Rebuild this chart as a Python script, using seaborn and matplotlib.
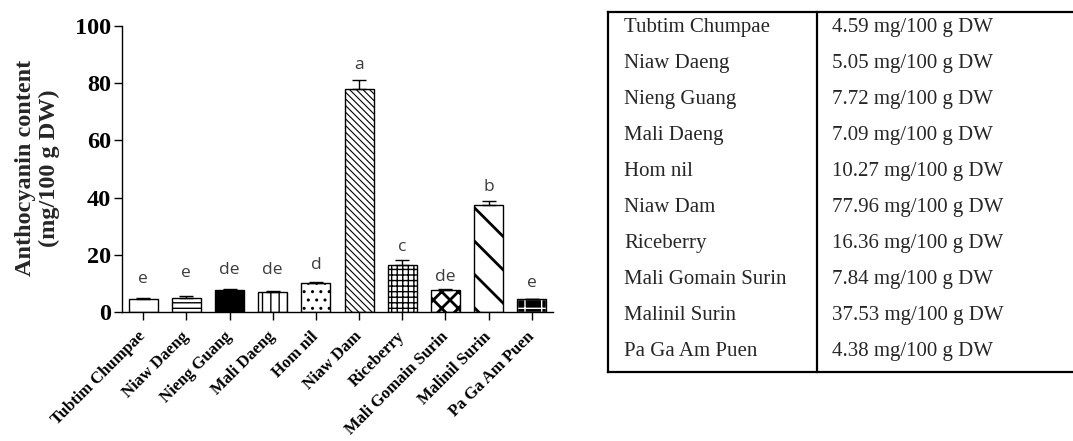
import numpy as np
import pandas as pd
import matplotlib
matplotlib.use("Agg")
import matplotlib.pyplot as plt
import matplotlib.transforms as mtransforms
from matplotlib.patches import Rectangle
import seaborn as sns

# ---- data -------------------------------------------------------------
varieties = ["Tubtim Chumpae", "Niaw Daeng", "Nieng Guang", "Mali Daeng", "Hom nil",
             "Niaw Dam", "Riceberry", "Mali Gomain Surin", "Malinil Surin", "Pa Ga Am Puen"]
anthocyanin = [4.59, 5.05, 7.72, 7.09, 10.27, 77.96, 16.36, 7.84, 37.53, 4.38]
sd = [0.2, 0.7, 0.2, 0.1, 0.2, 3.1, 1.8, 0.3, 1.3, 0.3]
groups = ["e", "e", "de", "de", "d", "a", "c", "de", "b", "e"]
y_ticks = [0, 20, 40, 60, 80, 100]
unit = "mg/100 g DW"

# ---- per-bar fill styles: (face, hatch, hatch line width) -------------
styles = [
    ("white", "", 1.0),
    ("white", "---", 1.0),
    ("black", "", 1.0),
    ("white", "||", 1.0),
    ("white", "..", 1.0),
    ("white", "\\" * 5, 0.8),
    ("white", "+++", 1.0),
    ("white", "xx", 2.0),
    ("white", "\\", 2.0),
    ("black", "+", 1.0),
]
letter_gap = [5.5, 6.4, 5.4, 6.0, 4.7, 3.9, 3.0, 2.7, 3.4, 4.2]

sns.set_theme(style="ticks")
plt.rcParams["font.family"] = ["Liberation Serif", "DejaVu Serif"]
plt.rcParams["hatch.linewidth"] = 1.0

W, H = 1073, 441
fig = plt.figure(figsize=(W / 100, H / 100), dpi=100)
ax = fig.add_axes([122 / W, 1 - 312 / H, (553 - 122) / W, (312 - 26) / H])

df = pd.DataFrame({"variety": varieties, "anthocyanin": anthocyanin})
sns.barplot(data=df, x="variety", y="anthocyanin", order=varieties, errorbar=None,
            width=0.67, color="white", saturation=1, edgecolor="black",
            linewidth=1.0, ax=ax)


def set_hatch_lw(patch, lw):
    if hasattr(patch, "set_hatch_linewidth"):
        patch.set_hatch_linewidth(lw)
    else:
        orig = patch.draw

        def draw(renderer, _orig=orig, _lw=lw):
            with plt.rc_context({"hatch.linewidth": _lw}):
                _orig(renderer)
        patch.draw = draw


bars = list(ax.patches)
for i, (p, (face, hatch, hlw)) in enumerate(zip(bars, styles)):
    p.set_facecolor(face)
    p.set_hatch(hatch)
    set_hatch_lw(p, hlw)
    if face == "black" and hatch:
        # white pattern on a black fill, then a black outline on top
        p.set_edgecolor("white")
        ax.add_patch(Rectangle(p.get_xy(), p.get_width(), p.get_height(),
                               fill=False, edgecolor="black", linewidth=1.0,
                               zorder=p.get_zorder() + 0.1))
    else:
        p.set_edgecolor("black")

xpos = np.arange(len(varieties))
ax.errorbar(xpos, anthocyanin, yerr=[np.zeros(len(sd)), sd], fmt="none",
            ecolor="black", elinewidth=1.0, capsize=5, capthick=1.0, zorder=3)

for i, (v, e, g) in enumerate(zip(anthocyanin, sd, groups)):
    ax.text(i, v + e + letter_gap[i], g, ha="center", va="baseline",
            fontfamily="Open Sans", fontsize=12.5, color="#3c3c3c")

ax.set_xlim(-0.49, len(varieties) - 0.51)
ax.set_ylim(0, 100)
ax.set_yticks(y_ticks)
ax.set_xticks(xpos)
ax.set_xticklabels(varieties, rotation=45, ha="right", va="center",
                   rotation_mode="anchor", fontweight="bold", fontsize=12)
for lab in ax.get_xticklabels():
    lab.set_transform(lab.get_transform() + mtransforms.ScaledTranslation(4 / 100, 0, fig.dpi_scale_trans))
ax.set_yticklabels([str(t) for t in y_ticks], fontweight="bold", fontsize=17.5)
ax.set_xlabel("")
ax.set_ylabel("")
sns.despine(ax=ax)
for s in ("left", "bottom"):
    ax.spines[s].set_linewidth(1.0)
    ax.spines[s].set_color("black")
ax.tick_params(axis="both", direction="out", length=6, width=1.0, color="black", labelcolor="black")
ax.tick_params(axis="y", pad=2)
ax.tick_params(axis="x", pad=10)

fig.text(37.5 / W, 1 - 168 / H, "Anthocyanin content\n(mg/100 g DW)", rotation=90,
         ha="center", va="center", multialignment="center", linespacing=1.2,
         fontweight="bold", fontsize=17.5)

# ---- value table on the right ----------------------------------------
tax = fig.add_axes([0, 0, 1, 1])
tax.set_xlim(0, W)
tax.set_ylim(H, 0)
tax.axis("off")
tax.patch.set_alpha(0)

left, mid, right, top, row_h = 608, 817, W + 5, 12, 36
bottom = top + row_h * len(varieties)
lw = 1.6
tax.plot([left, right], [top, top], color="black", lw=lw, solid_capstyle="projecting", clip_on=False)
tax.plot([left, right], [bottom, bottom], color="black", lw=lw, solid_capstyle="projecting", clip_on=False)
tax.plot([left, left], [top, bottom], color="black", lw=lw, solid_capstyle="projecting")
tax.plot([mid, mid], [top, bottom], color="black", lw=lw, solid_capstyle="projecting")
for i, (name, v) in enumerate(zip(varieties, anthocyanin)):
    y = top + (i + 0.42) * row_h
    tax.text(left + 16, y, name, ha="left", va="center", fontsize=15)
    tax.text(mid + 15, y, f"{v:.2f} {unit}", ha="left", va="center", fontsize=15)

fig.savefig("out.png", dpi=100)
